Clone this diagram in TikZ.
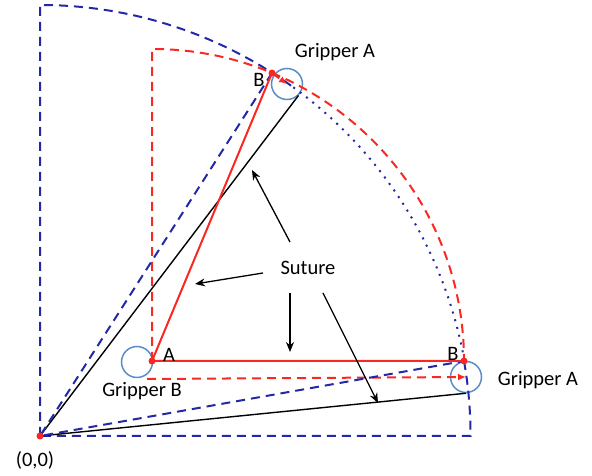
\documentclass[tikz,border=0pt]{standalone}
\usepackage{fontspec}
\setmainfont{Carlito}
\usetikzlibrary{arrows.meta,calc}
\definecolor{sblue}{RGB}{35,40,165}
\definecolor{sred}{RGB}{250,40,35}
\definecolor{grip}{RGB}{90,140,200}
\tikzset{
  bluedash/.style={sblue,line width=2pt,dash pattern=on 9pt off 6pt},
  bluedot/.style={sblue,line width=2pt,dash pattern=on 2pt off 6pt},
  reddash/.style={sred,line width=2pt,dash pattern=on 9pt off 6pt},
  gripper/.style={circle,draw=grip,line width=1.5pt,minimum size=31pt,inner sep=0pt},
  pin/.style={circle,fill=sred,minimum size=7pt,inner sep=0pt},
  lbl/.style={font=\fontsize{20.5}{24}\selectfont,inner sep=0pt},
  sutarrow/.style={-{Stealth[length=10pt,width=8pt]},line width=1.3pt},
}

\begin{document}
\begin{tikzpicture}[x=1pt,y=1pt]
\useasboundingbox (0,0) rectangle (592,476);
\coordinate (O) at (40,40);
\coordinate (A) at (152,115);
\coordinate (Bt) at (272,403);
\coordinate (Br) at (464,115);
\coordinate (top) at ($(O)+(90:431)$);
\coordinate (mid) at ($(O)+(54:431)$);
\coordinate (end) at ($(O)+(0:431)$);
\coordinate (rs) at (147,97);

\node[gripper] (gA1) at (287,392) {};
\node[gripper] (gA2) at (466,99) {};
\node[gripper] (gB) at (137,114) {};

\draw[bluedash] (O) -- (top) arc[start angle=90,end angle=54,radius=431];
\draw[bluedot] (mid) arc[start angle=54,end angle=10,radius=431];
\draw[bluedash] (Br) arc[start angle=10,end angle=0,radius=431] -- (O);
\draw[reddash] (A) -- ($(A)+(0,312)$) arc[start angle=90,end angle=0,radius=312];
\draw[reddash,-{Latex[length=8pt,width=7pt]}] (rs) -- (gA2.center);
\draw[reddash,-{Latex[length=8pt,width=7pt]}] (Bt) -- (gA1.center);

\draw[line width=1.4pt] (gA1.south east) -- (O) -- (gA2.south);
\draw[bluedash] (Bt) -- (O) -- (Br);
\draw[sred,line width=2pt] (Bt) -- (A) -- (Br);

\node[pin] at (O) {};
\node[pin] at (A) {};
\node[pin] at (Bt) {};
\node[pin] at (Br) {};

\node[lbl] (lgA1) at (335,424) {Gripper A};
\node[lbl] (lgA2) at (538,96) {Gripper A};
\node[lbl] (lgB) at (142,85) {Gripper B};
\node[lbl] (lBt) at (259,396) {B};
\node[lbl] (lBr) at (453,122) {B};
\node[lbl] (lA) at (169,121) {A};
\node[lbl] (lO) at (35,16) {(0,0)};

\node[lbl] (sut) at (308,208) {Suture};
\coordinate (s1) at (290,234);
\coordinate (t1) at (252,306);
\coordinate (s2) at (263,203);
\coordinate (t2) at (195,192);
\coordinate (s3) at (290,183);
\coordinate (t3) at (290,124);
\coordinate (s4) at (323,183);
\coordinate (t4) at (378,73);
\draw[sutarrow] (s1) -- (t1);
\draw[sutarrow] (s2) -- (t2);
\draw[sutarrow] (s3) -- (t3);
\draw[sutarrow] (s4) -- (t4);
\end{tikzpicture}
\end{document}
